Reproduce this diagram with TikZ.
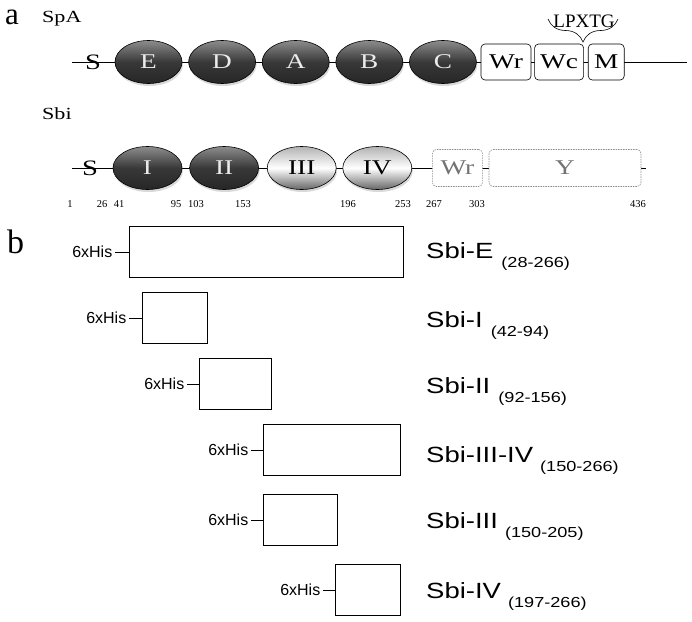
\documentclass[tikz,border=0pt]{standalone}
\usepackage{fontspec}
\setmainfont{Liberation Serif}
\newfontfamily\wideserif[FakeStretch=1.3]{Liberation Serif}
\newfontfamily\widesans[FakeStretch=1.25]{Liberation Sans}
\newfontfamily\plainsans{Liberation Sans}
\newcommand\rangetxtfont{\widesans\fontsize{14.5}{14.5}\selectfont}
\usetikzlibrary{positioning,shapes.geometric,shadows,decorations.pathreplacing}

\begin{document}
\begin{tikzpicture}[x=1pt,y=-1pt,
    dom/.style={ellipse, draw=black, line width=0.6pt, inner sep=0pt,
      minimum width=67pt, minimum height=43pt,
      font=\wideserif\fontsize{21}{21}\selectfont,
      drop shadow={shadow xshift=1pt, shadow yshift=-2.5pt, opacity=0.3}},
    darkdom/.style={dom, top color=black!45, bottom color=black!85,
      middle color=black!78, text=black!8},
    lightdom/.style={dom, top color=black!30, bottom color=black!60,
      middle color=white, text=black},
    wbox/.style={draw, rounded corners=4pt, fill=white, line width=0.6pt,
      minimum height=36pt, inner sep=0pt,
      font=\wideserif\fontsize{21}{21}\selectfont},
    ghostbox/.style={wbox, draw=black!45, dash pattern=on 1.5pt off 1pt,
      text=black!55, minimum height=37pt},
    resnum/.style={inner sep=0pt, font=\fontsize{10.5}{10.5}\selectfont},
    signal/.style={inner sep=0pt, font=\wideserif\fontsize{22}{22}\selectfont},
    hisbox/.style={draw, line width=0.8pt, minimum height=51pt,
      inner sep=0pt, anchor=west},
    histag/.style={inner sep=2.5pt, font=\plainsans\fontsize{16}{16}\selectfont},
    construct/.style={anchor=base west, inner sep=0pt,
      font=\widesans\fontsize{22}{22}\selectfont},
  ]
  \useasboundingbox (0,0) rectangle (692,621);

  % panel a
  \node[anchor=base west, inner sep=0pt, font=\fontsize{31}{31}\selectfont] (parta) at (5,24) {a};
  \node[anchor=base west, inner sep=0pt, font=\wideserif\fontsize{17}{17}\selectfont] (spaname) at (42,22) {SpA};
  \node[anchor=base west, inner sep=0pt, font=\wideserif\fontsize{17}{17}\selectfont] (sbiname) at (42,119) {Sbi};

  % SpA
  \coordinate (spaL) at (72,62);
  \coordinate (spaR) at (687,62);
  \draw[line width=0.6pt] (spaL) -- (spaR);
  \node[signal] (spaS) at (93,62) {S};
  \node[darkdom] (spaE) at (148.5,62) {E};
  \node[darkdom, right=6pt of spaE] (spaD) {D};
  \node[darkdom, right=6pt of spaD] (spaA) {A};
  \node[darkdom, right=6pt of spaA] (spaB) {B};
  \node[darkdom, right=6pt of spaB] (spaC) {C};
  \node[wbox, minimum width=50pt, right=4pt of spaC] (spaWr) {Wr};
  \node[wbox, minimum width=49pt, right=3pt of spaWr] (spaWc) {Wc};
  \node[wbox, minimum width=36pt, right=4pt of spaWc] (spaM) {M};
  \node[inner sep=0pt, font=\fontsize{19}{19}\selectfont] (lpxtg) at (584,21) {LPXTG};
  \coordinate (lpxR) at (618,19);
  \coordinate (lpxL) at (548,19);
  \draw[line width=0.6pt, decorate, decoration={brace, amplitude=23pt}] (lpxR) -- (lpxL);

  % Sbi
  \coordinate (sbiL) at (72,168);
  \coordinate (sbiR) at (646,168);
  \draw[line width=0.6pt] (sbiL) -- (sbiR);
  \node[signal] (sbiS) at (90,168) {S};
  \node[darkdom, minimum width=69pt] (sbiI) at (147.5,168) {I};
  \node[darkdom, minimum width=69pt, right=7pt of sbiI] (sbiII) {II};
  \node[lightdom, minimum width=69pt, right=8pt of sbiII] (sbiIII) {III};
  \node[lightdom, minimum width=69pt, right=6pt of sbiIII] (sbiIV) {IV};
  \node[ghostbox, minimum width=50pt, right=20pt of sbiIV] (sbiWr) {Wr};
  \node[ghostbox, minimum width=152pt, right=6pt of sbiWr] (sbiY) {Y};
  \foreach \num/\xpos in {1/70, 26/102, 41/119, 95/176, 103/196, 153/243,
      196/348, 253/403, 267/434, 303/477, 436/638}
    \node[resnum] (res\num) at (\xpos,204) {\num};

  % panel b
  \node[anchor=base west, inner sep=0pt, font=\fontsize{34}{34}\selectfont] (partb) at (7,253) {b};

  \node[hisbox, minimum width=274pt] (boxE) at (129,252) {};
  \node[histag, left=14pt of boxE] (hisE) {6xHis};
  \draw[line width=0.8pt] (hisE) -- (boxE);
  \node[construct] (lblE) at (426,258) {Sbi-E\hspace{8pt}\raisebox{-9pt}{\rangetxtfont(28-266)}};

  \node[hisbox, minimum width=65pt] (boxI) at (142,318) {};
  \node[histag, left=13pt of boxI] (hisI) {6xHis};
  \draw[line width=0.8pt] (hisI) -- (boxI);
  \node[construct] (lblI) at (426,327) {Sbi-I\hspace{8pt}\raisebox{-9pt}{\rangetxtfont(42-94)}};

  \node[hisbox, minimum width=72pt] (boxII) at (199,384) {};
  \node[histag, left=12pt of boxII] (hisII) {6xHis};
  \draw[line width=0.8pt] (hisII) -- (boxII);
  \node[construct] (lblII) at (426,393) {Sbi-II\hspace{8pt}\raisebox{-9pt}{\rangetxtfont(92-156)}};

  \node[hisbox, minimum width=137pt] (boxIIIIV) at (263,450) {};
  \node[histag, left=12pt of boxIIIIV] (hisIIIIV) {6xHis};
  \draw[line width=0.8pt] (hisIIIIV) -- (boxIIIIV);
  \node[construct] (lblIIIIV) at (426,462) {Sbi-III-IV\hspace{7pt}\raisebox{-9pt}{\rangetxtfont(150-266)}};

  \node[hisbox, minimum width=74pt] (boxIII) at (263,520) {};
  \node[histag, left=12pt of boxIII] (hisIII) {6xHis};
  \draw[line width=0.8pt] (hisIII) -- (boxIII);
  \node[construct] (lblIII) at (426,528) {Sbi-III\hspace{7pt}\raisebox{-9pt}{\rangetxtfont(150-205)}};

  \node[hisbox, minimum width=65pt] (boxIV) at (335,590) {};
  \node[histag, left=12pt of boxIV] (hisIV) {6xHis};
  \draw[line width=0.8pt] (hisIV) -- (boxIV);
  \node[construct] (lblIV) at (426,598) {Sbi-IV\hspace{7pt}\raisebox{-9pt}{\rangetxtfont(197-266)}};
\end{tikzpicture}
\end{document}
